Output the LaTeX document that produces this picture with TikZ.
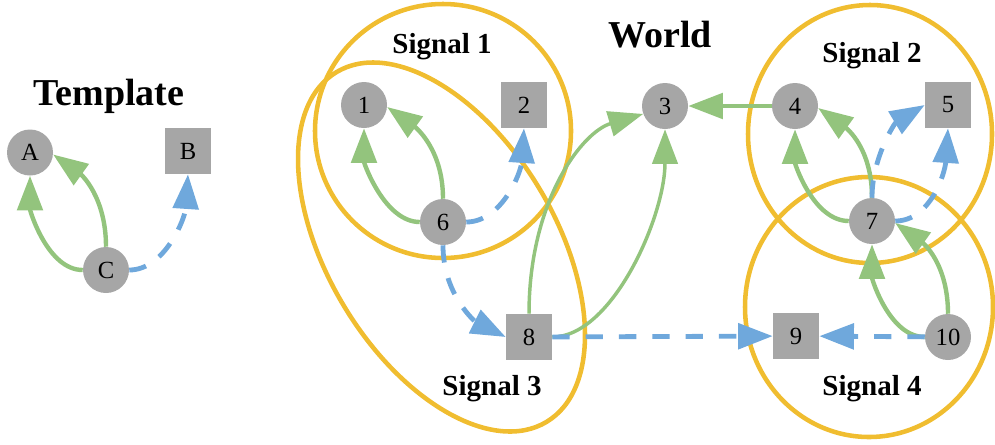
\documentclass[tikz,border=0pt]{standalone}
\usepackage{fontspec}
\setmainfont{Liberation Serif}
\usetikzlibrary{arrows.meta}
\definecolor{sigyel}{HTML}{F0BD30}
\definecolor{edgegreen}{HTML}{93C47D}
\definecolor{edgeblue}{HTML}{6FA8DC}
\definecolor{nodegray}{HTML}{A6A6A6}
\tikzset{
  cnode/.style={circle, fill=nodegray, minimum size=34.5pt, inner sep=0pt, font=\fontsize{18.5pt}{20pt}\selectfont},
  snode/.style={rectangle, fill=nodegray, minimum size=34.5pt, inner sep=0pt, font=\fontsize{18.5pt}{20pt}\selectfont},
  tip/.style={-{Triangle[length=26pt,width=19pt]}},
  gedge/.style={draw=edgegreen, line width=3.3pt, tip},
  gthin/.style={draw=edgegreen, line width=2.6pt, tip},
  bedge/.style={draw=edgeblue, line width=3.6pt, dash pattern=on 13pt off 12pt, tip},
  sig/.style={draw=sigyel, line width=3.4pt},
  titlelab/.style={font=\bfseries\fontsize{28.5pt}{30pt}\selectfont, anchor=base},
  siglab/.style={font=\bfseries\fontsize{21.75pt}{24pt}\selectfont, anchor=base}
}
\begin{document}
\begin{tikzpicture}[x=0.75pt, y=-0.75pt]
\useasboundingbox (0,0) rectangle (995,444);

% signal ellipses
\draw[sig] (443,131) ellipse [x radius=128, y radius=127];
\draw[sig, rotate around={-59:(441.5,247)}] (441.5,247) ellipse [x radius=204, y radius=114];
\draw[sig] (870,134) ellipse [x radius=122, y radius=129];
\draw[sig] (869,307) ellipse [x radius=124, y radius=130];

% titles and labels
\node[titlelab] (ttemplate) at (109,105) {Template};
\node[titlelab] (tworld) at (660,47) {World};
\node[siglab] (s1) at (442,53) {Signal 1};
\node[siglab] (s2) at (872,62) {Signal 2};
\node[siglab] (s3) at (492,395) {Signal 3};
\node[siglab] (s4) at (872,395) {Signal 4};

% template nodes
\node[cnode] (A) at (30,152.5) {A};
\node[snode] (B) at (188,151) {B};
\node[cnode] (C) at (106,270) {C};

% world nodes
\node[cnode] (n1) at (364,105) {1};
\node[snode] (n2) at (524,105) {2};
\node[cnode] (n3) at (665,106) {3};
\node[cnode] (n4) at (795,106) {4};
\node[snode] (n5) at (948,105) {5};
\node[cnode] (n6) at (443,222) {6};
\node[cnode] (n7) at (872,221) {7};
\node[snode] (n8) at (529,337) {8};
\node[snode] (n9) at (796,336) {9};
\node[cnode] (n10) at (948,337) {10};

% template edges
\draw[gedge] (C.west) .. controls +(-35,0) and +(0,35) .. (A.south);
\draw[gedge] (C.north) .. controls +(0,-50) and +(28,20) .. (A.-5);
\draw[bedge] (C.east) .. controls +(35,0) and +(-3,45) .. (B.south);

% 6 -> 1, 2, 8
\draw[gedge] (n6.west) .. controls +(-35,0) and +(0,35) .. (n1.south);
\draw[gedge] (n6.north) .. controls +(0,-50) and +(28,20) .. (n1.-5);
\draw[bedge] (n6.east) .. controls +(35,0) and +(-3,45) .. (n2.south);
\draw[bedge] (n6.south) .. controls +(0,50) and +(-30,-15) .. (n8.west);

% 8 -> 3, 9
\draw[gthin] (n8.north) .. controls +(0,-113) and +(-61,18) .. (n3.200);
\draw[gthin] (n8.east) .. controls +(60,0) and +(0,87) .. (n3.south);
\draw[bedge] (n8) -- (n9);

% 4 -> 3
\draw[gedge] (n4) -- (n3);

% 7 -> 4, 5
\draw[gedge] (n7.west) .. controls +(-35,0) and +(0,35) .. (n4.south);
\draw[gedge] (n7.north) .. controls +(0,-50) and +(28,20) .. (n4.-5);
\draw[bedge] (n7.north) .. controls +(0,-40) and +(-30,18) .. (n5.west);
\draw[bedge] (n7.east) .. controls +(35,0) and +(-3,45) .. (n5.south);

% 10 -> 7, 9
\draw[gedge] (n10.west) .. controls +(-35,0) and +(0,35) .. (n7.south);
\draw[gedge] (n10.north) .. controls +(0,-50) and +(28,20) .. (n7.-5);
\draw[bedge] (n10) -- (n9);
\end{tikzpicture}
\end{document}
